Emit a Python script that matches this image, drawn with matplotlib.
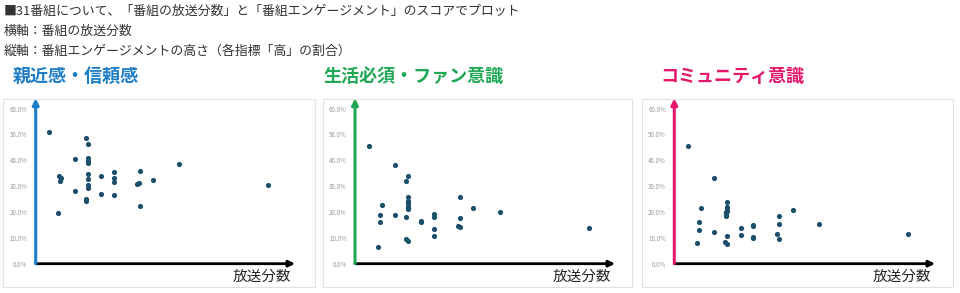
import matplotlib
matplotlib.use("Agg")
import matplotlib.pyplot as plt
from matplotlib.patches import Rectangle

plt.rcParams['font.family'] = ['Noto Sans CJK JP', 'DejaVu Sans']

# ---------------- data ----------------
header_lines = [
    "■31番組について、「番組の放送分数」と「番組エンゲージメント」のスコアでプロット",
    "横軸：番組の放送分数",
    "縦軸：番組エンゲージメントの高さ（各指標「高」の割合）",
]
panel_titles = ["親近感・信頼感", "生活必須・ファン意識", "コミュニティ意識"]
panel_colors = ["#1f7fc6", "#1fa855", "#e5176b"]
x_label = "放送分数"
y_ticks = [0, 10, 20, 30, 40, 50, 60]

# broadcast minutes (x) and share of "high" (%) per panel
minutes_1 = [7.5, 12.8, 13.7, 14.9, 13.9, 22.8, 22.8, 29.2, 30.2, 30.2, 30.2, 30.2,
             30.2, 30.2, 30.2, 30.2, 29.2, 29.2, 37.7, 37.7, 45.5, 45.5, 45.5, 45.5,
             59.0, 60.2, 60.5, 60.5, 67.9, 83.2, 134.8]
score_1 = [51.0, 19.6, 33.9, 33.0, 32.1, 40.6, 28.0, 48.6, 46.2, 41.0, 39.9, 38.8,
           34.8, 32.6, 30.3, 29.4, 25.2, 24.1, 33.9, 27.0, 35.5, 33.3, 31.5, 26.5,
           30.7, 31.4, 35.9, 22.3, 32.3, 38.7, 30.3]

minutes_2 = [8.1, 13.5, 14.5, 14.5, 15.5, 23.2, 23.2, 29.6, 30.8, 29.6, 30.8, 30.8,
             30.8, 30.8, 30.8, 30.8, 29.6, 30.8, 38.3, 38.3, 45.8, 45.8, 45.8, 45.8,
             59.6, 60.9, 60.9, 60.9, 68.5, 83.8, 135.4]
score_2 = [45.7, 6.6, 18.8, 16.1, 22.8, 38.1, 18.8, 32.0, 33.8, 18.1, 25.7, 24.4,
           23.3, 22.4, 21.6, 21.0, 9.7, 8.6, 16.4, 16.1, 19.4, 18.2, 13.4, 10.8,
           14.6, 14.2, 25.9, 17.7, 21.4, 20.1, 13.8]

minutes_3 = [8.1, 13.3, 14.3, 14.3, 15.5, 23.0, 23.0, 30.6, 30.6, 30.6, 30.6, 29.8,
             29.8, 29.8, 30.6, 29.2, 30.6, 29.8, 38.3, 38.3, 45.6, 45.6, 45.6, 45.6,
             59.4, 60.7, 60.7, 60.7, 68.5, 83.6, 135.2]
score_3 = [45.5, 8.0, 16.1, 12.9, 21.7, 33.0, 12.1, 23.7, 22.0, 21.4, 20.5, 20.0,
           19.7, 18.5, 10.6, 8.3, 7.6, 19.0, 13.9, 11.1, 14.9, 14.5, 10.3, 9.9,
           11.4, 9.5, 18.6, 15.4, 20.6, 15.2, 11.5]

panels_x = [minutes_1, minutes_2, minutes_3]
panels_y = [score_1, score_2, score_3]

# ---------------- layout (pixels) ----------------
W, H = 960, 293
fig = plt.figure(figsize=(W / 100, H / 100), dpi=100)

def fx(px):
    return px / W

def fy(py):
    return 1 - py / H

for i, line in enumerate(header_lines):
    fig.text(fx(4), fy([11, 31, 51][i]), line, fontsize=9.3, color="#333333",
             ha="left", va="center")

boxes = [(3, 315), (323, 632), (642, 953)]
axes_lr = [(35.7, 295), (355, 615), (674.3, 935)]
title_x = [13, 323, 660]
ax_top, ax_bottom = 98.3, 263.7
box_top, box_bottom = 98.5, 287

for k in range(3):
    # panel frame
    bx0, bx1 = boxes[k]
    fig.patches.append(Rectangle((fx(bx0), fy(box_bottom)), fx(bx1 - bx0),
                                 (box_bottom - box_top) / H, transform=fig.transFigure,
                                 fill=False, edgecolor="#e2e2e2", lw=0.8, zorder=0))
    # panel title
    fig.text(fx(title_x[k]), fy(76), panel_titles[k], fontsize=13, color=panel_colors[k],
             fontweight="bold", ha="left", va="center")

    l, r = axes_lr[k]
    ax = fig.add_axes([fx(l), fy(ax_bottom), fx(r - l), (ax_bottom - ax_top) / H])
    ax.set_xlim(0, 150.5)
    ax.set_ylim(0, 64.0)
    for s in ax.spines.values():
        s.set_visible(False)
    ax.set_xticks([])
    ax.set_yticks(y_ticks)
    ax.set_yticklabels([f"{v:.1f}%" for v in y_ticks])
    ax.tick_params(axis="y", length=0, pad=6, labelsize=4.5, labelcolor="#999999")
    ax.patch.set_alpha(0)

    ax.scatter(panels_x[k], panels_y[k], s=14, color="#1c4f6c", zorder=3, linewidths=0)

    # axis arrows
    ax.annotate("", xy=(1, 0), xytext=(0, 0), xycoords="axes fraction",
                arrowprops=dict(arrowstyle="-|>", color="black", lw=2,
                                mutation_scale=9, shrinkA=0, shrinkB=0), zorder=4)
    ax.annotate("", xy=(0, 1), xytext=(0, 0), xycoords="axes fraction",
                arrowprops=dict(arrowstyle="-|>", color=panel_colors[k], lw=2.2,
                                mutation_scale=9, shrinkA=0, shrinkB=0), zorder=5)

    fig.text(fx(r - 4), fy(276.5), x_label, fontsize=10.5, color="#222222",
             ha="right", va="center")

fig.savefig("out.png", dpi=100)
